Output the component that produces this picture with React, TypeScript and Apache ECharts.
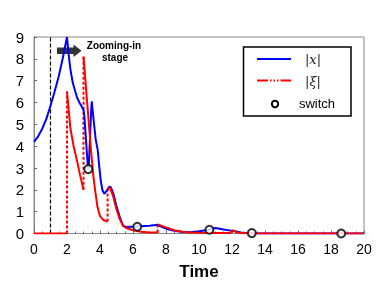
import React, { useEffect, useRef } from "react";
import * as echarts from "echarts";

const blueTime = [0, 0.25, 0.5, 0.75, 1, 1.25, 1.5, 1.75, 2, 2.1, 2.2, 2.35, 2.5, 2.6, 2.75, 2.9, 3.0, 3.05, 3.15, 3.25, 3.29, 3.33, 3.39, 3.45, 3.5, 3.6, 3.74, 3.86, 3.95, 4.05, 4.15, 4.26, 4.4, 4.57, 4.65, 4.8, 5.0, 5.2, 5.4, 5.6, 6.2, 7.0, 7.5, 7.6, 8.0, 8.5, 9.0, 9.5, 10.0, 10.63, 11.0, 11.5, 12.0, 12.2, 12.5, 13.2, 20];
const blueValue = [4.2, 4.45, 4.8, 5.25, 5.85, 6.5, 7.2, 8.05, 9.0, 8.2, 7.55, 6.9, 6.5, 6.25, 6.0, 5.8, 5.65, 5.4, 4.3, 3.2, 2.95, 3.2, 4.3, 5.4, 6.05, 5.3, 4.3, 3.84, 3.1, 2.4, 1.98, 1.82, 1.95, 2.15, 2.12, 1.85, 1.25, 0.75, 0.35, 0.3, 0.32, 0.35, 0.4, 0.35, 0.22, 0.12, 0.07, 0.06, 0.1, 0.17, 0.25, 0.18, 0.12, 0.1, 0.05, 0, 0];

const redSeg0Time = [0, 2];
const redSeg0Value = [0, 0];
const redSeg1Time = [2, 2.2, 2.4, 2.6, 2.8, 3.0];
const redSeg1Value = [6.5, 4.85, 4.0, 3.35, 2.65, 2.0];
const redSeg2Time = [3.0, 3.2, 3.45, 3.6, 3.7, 3.85, 4.0, 4.2, 4.45];
const redSeg2Value = [8.1, 6.2, 3.85, 2.6, 2.0, 1.2, 0.8, 0.62, 0.55];
const redSeg3Time = [4.47, 4.6, 4.8, 5.0, 5.2, 5.4, 5.6, 6.0, 6.5, 7.0, 7.48];
const redSeg3Value = [2.05, 2.1, 1.7, 1.1, 0.65, 0.35, 0.25, 0.15, 0.08, 0.05, 0.05];
const redSeg4Time = [7.5, 8.0, 8.5, 9.0, 9.5, 10, 11, 11.9, 12.0, 12.3, 13, 20];
const redSeg4Value = [0.42, 0.28, 0.15, 0.08, 0.05, 0.03, 0.02, 0.02, 0.15, 0.05, 0, 0];

const jumpTime = [2, 3, 4.46, 7.49];
const jumpFrom = [0, 2.0, 0.55, 0.05];
const jumpTo = [6.5, 8.1, 2.05, 0.42];

const switchTime = [3.29, 6.26, 10.63, 13.2, 18.62];
const switchValue = [2.95, 0.31, 0.17, 0.02, 0];

const stageStart = 1;
const xTicks = [0, 2, 4, 6, 8, 10, 12, 14, 16, 18, 20];
const yTicks = [0, 1, 2, 3, 4, 5, 6, 7, 8, 9];

const zip = (t: number[], v: number[]) => t.map((x, i) => [x, v[i]]);

const RED = "#ff0000";
const BLUE = "#0000ff";

export default function App() {
  const ref = useRef<HTMLDivElement>(null);
  useEffect(() => {
    if (!ref.current) return;
    const chart = echarts.init(ref.current, null, { renderer: "svg" });
    const redSegs = [
      zip(redSeg0Time, redSeg0Value),
      zip(redSeg1Time, redSeg1Value),
      zip(redSeg2Time, redSeg2Value),
      zip(redSeg3Time, redSeg3Value),
      zip(redSeg4Time, redSeg4Value),
    ];
    const series: any[] = [];
    series.push({
      type: "line",
      data: [[stageStart, 0], [stageStart, 9]],
      symbol: "none",
      lineStyle: { color: "#000", width: 1.2, type: [4, 2] },
      z: 1,
    });
    jumpTime.forEach((t, i) => {
      series.push({
        type: "line",
        data: [[t, jumpFrom[i]], [t, jumpTo[i]]],
        symbol: "none",
        lineStyle: { color: RED, width: 2, type: [3, 2] },
        z: 2,
      });
    });
    series.push({
      type: "line",
      data: zip(blueTime, blueValue),
      symbol: "none",
      lineStyle: { color: BLUE, width: 2 },
      z: 3,
    });
    redSegs.forEach((d) => {
      series.push({
        type: "line",
        data: d,
        symbol: "none",
        lineStyle: { color: RED, width: 2 },
        z: 4,
      });
    });
    series.push({
      type: "scatter",
      data: zip(switchTime, switchValue),
      symbol: "circle",
      symbolSize: 8,
      itemStyle: { color: "#fff", borderColor: "#000", borderWidth: 2 },
      z: 5,
    });

    chart.setOption({
      animation: false,
      grid: { left: 34, top: 37, width: 330, height: 196.5, show: true, borderColor: "#888", borderWidth: 1 },
      xAxis: {
        type: "value",
        min: 0,
        max: 20,
        interval: 2,
        name: "Time",
        nameLocation: "middle",
        nameGap: 29,
        nameTextStyle: { fontSize: 17, fontWeight: "bold", color: "#000", fontFamily: "Liberation Sans" },
        axisLine: { lineStyle: { color: "#888" } },
        axisTick: { inside: true, length: 3, lineStyle: { color: "#666" } },
        minorTick: { show: true, splitNumber: 4, length: 2, lineStyle: { color: "#666" } },
        splitLine: { show: false },
        axisLabel: {
          fontSize: 14,
          color: "#000",
          fontFamily: "Liberation Sans",
          margin: 8,
          formatter: (v: number) => (xTicks.includes(v) ? String(v) : ""),
        },
      },
      yAxis: {
        type: "value",
        min: 0,
        max: 9,
        interval: 1,
        axisLine: { show: true, lineStyle: { color: "#888" } },
        axisTick: { show: true, inside: true, length: 3, lineStyle: { color: "#666" } },
        splitLine: { show: false },
        axisLabel: {
          fontSize: 15,
          color: "#000",
          fontFamily: "Liberation Sans",
          margin: 10,
          formatter: (v: number) => (yTicks.includes(v) ? String(v) : ""),
        },
      },
      graphic: [
        { type: "rect", shape: { x: 57, y: 47.5, width: 17, height: 6.5 }, style: { fill: "#333" } },
        { type: "polygon", shape: { points: [[73.5, 44.5], [81.5, 50.75], [73.5, 57]] }, style: { fill: "#333" } },
        {
          type: "text",
          x: 114,
          y: 45,
          style: { text: "Zooming-in", fontSize: 10, fontWeight: "bold", fill: "#000", align: "center", verticalAlign: "middle", fontFamily: "Liberation Sans" },
        },
        {
          type: "text",
          x: 115,
          y: 57,
          style: { text: "stage", fontSize: 10, fontWeight: "bold", fill: "#000", align: "center", verticalAlign: "middle", fontFamily: "Liberation Sans" },
        },
        { type: "rect", shape: { x: 243.5, y: 47, width: 107.5, height: 69 }, style: { fill: "#fff", stroke: "#000", lineWidth: 1.5 }, z: 10 },
        { type: "line", shape: { x1: 257, y1: 59, x2: 291, y2: 59 }, style: { stroke: BLUE, lineWidth: 2 }, z: 11 },
        { type: "line", shape: { x1: 257, y1: 80.5, x2: 291, y2: 80.5 }, style: { stroke: RED, lineWidth: 2, lineDash: [11, 2, 1.5, 2, 1.5, 2, 1.5, 2] }, z: 11 },
        { type: "circle", shape: { cx: 275, cy: 104, r: 3.2 }, style: { fill: "#fff", stroke: "#000", lineWidth: 2 }, z: 11 },
        {
          type: "text",
          x: 313,
          y: 59,
          style: { text: "|x|", fontSize: 13, fontStyle: "italic", fill: "#222", align: "center", verticalAlign: "middle", fontFamily: "DejaVu Serif" },
          z: 11,
        },
        {
          type: "text",
          x: 313,
          y: 81,
          style: { text: "|ξ|", fontSize: 13, fontStyle: "italic", fill: "#222", align: "center", verticalAlign: "middle", fontFamily: "DejaVu Serif" },
          z: 11,
        },
        {
          type: "text",
          x: 317,
          y: 103,
          style: { text: "switch", fontSize: 13, fill: "#000", align: "center", verticalAlign: "middle", fontFamily: "Liberation Sans" },
          z: 11,
        },
      ],
      series,
    });
    return () => chart.dispose();
  }, []);
  return <div ref={ref} style={{ position: "fixed", left: 0, top: 0, width: 382, height: 286 }} />;
}
